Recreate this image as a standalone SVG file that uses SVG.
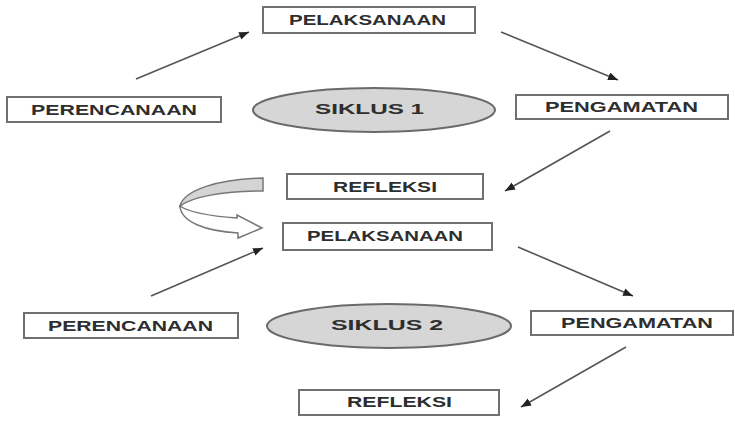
<svg xmlns="http://www.w3.org/2000/svg" width="735" height="427" viewBox="0 0 735 427">
<defs>
<style>
.box{fill:#fff;stroke:#707070;stroke-width:2}
.ell{fill:#d6d6d6;stroke:#6a6a6a;stroke-width:2}
.t{font-family:"Liberation Sans",Arial,sans-serif;font-weight:bold;font-size:15px;fill:#2e2e2e}
.c{stroke:#555;stroke-width:1.6;fill:none;marker-end:url(#ah)}
</style>
<marker id="ah" markerUnits="userSpaceOnUse" markerWidth="12" markerHeight="10" refX="10" refY="4" orient="auto">
<path d="M0,0 L10,4 L0,8 Z" fill="#222"/>
</marker>
</defs>
<rect width="735" height="427" fill="#fff"/>

<g id="connectors">
<line class="c" x1="136" y1="79" x2="249" y2="32"/>
<line class="c" x1="501" y1="32" x2="618" y2="80"/>
<line class="c" x1="610" y1="131" x2="505" y2="191"/>
<line class="c" x1="151" y1="296" x2="263" y2="248"/>
<line class="c" x1="518" y1="247" x2="633" y2="296"/>
<line class="c" x1="626" y1="347" x2="521" y2="407"/>
<g id="curved-arrow">
<path d="M263,178 C218,179 184,190 180,206 C192,197 222,191 263,191 Z" fill="#d4d4d4" stroke="#777" stroke-width="1.5"/>
<path d="M180,206 C181,222 205,231 238,233 L238,238 L262,228 L237,215 L237,218 C210,216 190,213 180,206 Z" fill="#fff" stroke="#777" stroke-width="1.5"/>
</g>
</g>

<g id="pelaksanaan1">
<rect class="box" x="263" y="7" width="212" height="26"/>
<text class="t" x="289" y="25" textLength="157" lengthAdjust="spacingAndGlyphs">PELAKSANAAN</text>
</g>
<g id="perencanaan1">
<rect class="box" x="7" y="97" width="214" height="25"/>
<text class="t" x="31" y="115" textLength="166" lengthAdjust="spacingAndGlyphs">PERENCANAAN</text>
</g>
<g id="siklus1">
<ellipse class="ell" cx="374" cy="110" rx="121" ry="22"/>
<text class="t" x="315" y="114" textLength="109" lengthAdjust="spacingAndGlyphs">SIKLUS 1</text>
</g>
<g id="pengamatan1">
<rect class="box" x="516" y="95" width="212" height="24"/>
<text class="t" x="545" y="112" textLength="153" lengthAdjust="spacingAndGlyphs">PENGAMATAN</text>
</g>
<g id="refleksi1">
<rect class="box" x="287" y="174" width="196" height="25"/>
<text class="t" x="333" y="192" textLength="104" lengthAdjust="spacingAndGlyphs">REFLEKSI</text>
</g>

<g id="pelaksanaan2">
<rect class="box" x="283" y="223" width="209" height="27"/>
<text class="t" x="307" y="241" textLength="156" lengthAdjust="spacingAndGlyphs">PELAKSANAAN</text>
</g>
<g id="perencanaan2">
<rect class="box" x="24" y="313" width="214" height="25"/>
<text class="t" x="48" y="331" textLength="165" lengthAdjust="spacingAndGlyphs">PERENCANAAN</text>
</g>
<g id="siklus2">
<ellipse class="ell" cx="389" cy="326" rx="122" ry="22"/>
<text class="t" x="331" y="330" textLength="112" lengthAdjust="spacingAndGlyphs">SIKLUS 2</text>
</g>
<g id="pengamatan2">
<rect class="box" x="531" y="311" width="202" height="24"/>
<text class="t" x="561" y="328" textLength="152" lengthAdjust="spacingAndGlyphs">PENGAMATAN</text>
</g>
<g id="refleksi2">
<rect class="box" x="299" y="390" width="200" height="25"/>
<text class="t" x="347" y="407" textLength="105" lengthAdjust="spacingAndGlyphs">REFLEKSI</text>
</g>
</svg>
